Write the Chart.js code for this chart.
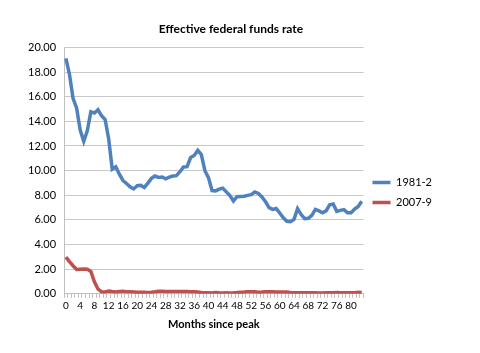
<!DOCTYPE html>
<html>
<head>
<meta charset="utf-8">
<script src="https://cdn.jsdelivr.net/npm/chart.js@4.4.0/dist/chart.umd.min.js"></script>
<style>
  html, body { margin: 0; padding: 0; background: #fff; }
  #wrap { width: 480px; height: 353px; }
</style>
</head>
<body>
<div id="wrap"><canvas id="chart" width="480" height="353"></canvas></div>
<script>
// months since peak, 0..83
const months = [];
for (let i = 0; i <= 83; i++) months.push(String(i));

// effective federal funds rate, July 1981 onward
const rate1981 = [
    19.10, 17.82, 15.87, 15.08, 13.31, 12.37,
    13.22, 14.78, 14.68, 14.94, 14.45, 14.15,
    12.59, 10.12, 10.31, 9.71, 9.20, 8.95,
    8.68, 8.51, 8.77, 8.80, 8.63, 8.98,
    9.37, 9.56, 9.45, 9.48, 9.34, 9.47,
    9.56, 9.59, 9.91, 10.29, 10.32, 11.06,
    11.23, 11.64, 11.30, 9.99, 9.43, 8.38,
    8.35, 8.50, 8.58, 8.27, 7.97, 7.53,
    7.88, 7.90, 7.92, 7.99, 8.05, 8.27,
    8.14, 7.86, 7.48, 6.99, 6.85, 6.92,
    6.56, 6.17, 5.89, 5.85, 6.04, 6.91,
    6.43, 6.10, 6.13, 6.37, 6.85, 6.73,
    6.58, 6.73, 7.22, 7.29, 6.69, 6.77,
    6.83, 6.58, 6.58, 6.87, 7.09, 7.51
];

// effective federal funds rate, 2007-9 episode
const rate2007 = [
    2.98, 2.61, 2.28, 1.98, 2.00, 2.01, 2.00, 1.81, 0.97, 0.39, 0.16,
    0.15, 0.22, 0.18, 0.15, 0.18, 0.21, 0.16, 0.16, 0.15, 0.12, 0.12, 0.12,
    0.11, 0.13, 0.16, 0.20, 0.20, 0.18, 0.18, 0.19, 0.19, 0.19, 0.19, 0.18,
    0.17, 0.16, 0.14, 0.10, 0.09, 0.09, 0.07, 0.10, 0.08, 0.07, 0.08, 0.07,
    0.08, 0.10, 0.13, 0.14, 0.16, 0.16, 0.16, 0.13, 0.14, 0.16, 0.16, 0.16,
    0.14, 0.15, 0.14, 0.15, 0.11, 0.09, 0.09, 0.08, 0.08, 0.09, 0.08, 0.09,
    0.07, 0.07, 0.08, 0.09, 0.09, 0.10, 0.09, 0.09, 0.09, 0.09, 0.09, 0.12,
    0.11
];

const seriesNames = ['1981-2', '2007-9'];

const fontFam = 'Lato, "Open Sans", sans-serif';
const ctx = document.getElementById('chart').getContext('2d');

new Chart(ctx, {
    type: 'line',
    data: {
        labels: months,
        datasets: [{
            label: seriesNames[0],
            data: rate1981,
            borderColor: '#4F81BD',
            backgroundColor: '#4F81BD',
            borderWidth: 3.5,
            pointRadius: 0,
            tension: 0,
            fill: false
        }, {
            label: seriesNames[1],
            data: rate2007,
            borderColor: '#C0504D',
            backgroundColor: '#C0504D',
            borderWidth: 3.5,
            pointRadius: 0,
            tension: 0,
            fill: false
        }]
    },
    options: {
        responsive: false,
        animation: false,
        layout: { padding: { left: 20, right: 38, top: 22, bottom: 22 } },
        plugins: {
            title: {
                display: true,
                text: 'Effective federal funds rate',
                color: '#000',
                font: { family: fontFam, size: 12, weight: 'bold' },
                padding: { top: 0, bottom: 11 }
            },
            legend: {
                position: 'right',
                title: {
                    display: true,
                    text: ' ',
                    font: { size: 10 },
                    padding: { top: 10, bottom: 10 }
                },
                labels: {
                    usePointStyle: true,
                    pointStyle: 'line',
                    pointStyleWidth: 18,
                    color: '#000',
                    font: { family: fontFam, size: 11 },
                    padding: 9
                }
            },
            tooltip: { enabled: false }
        },
        scales: {
            x: {
                offset: true,
                grid: {
                    offset: true,
                    drawOnChartArea: false,
                    drawTicks: true,
                    tickLength: 4,
                    color: '#BFBFBF'
                },
                border: { color: '#BFBFBF' },
                ticks: {
                    autoSkip: false,
                    maxRotation: 0,
                    color: '#000',
                    font: { family: fontFam, size: 10 },
                    padding: 2,
                    callback: function (v, i) { return i % 4 === 0 ? months[i] : ''; }
                },
                title: {
                    display: true,
                    text: 'Months since peak',
                    color: '#000',
                    font: { family: fontFam, size: 11, weight: 'bold' },
                    padding: { top: 4, bottom: 0 }
                }
            },
            y: {
                min: 0,
                max: 20,
                grid: { color: '#C8C8C8', drawTicks: false },
                border: { color: '#BFBFBF' },
                ticks: {
                    stepSize: 2,
                    color: '#000',
                    font: { family: fontFam, size: 11 },
                    padding: 8,
                    callback: function (v) { return v.toFixed(2); }
                }
            }
        }
    }
});
</script>
</body>
</html>
